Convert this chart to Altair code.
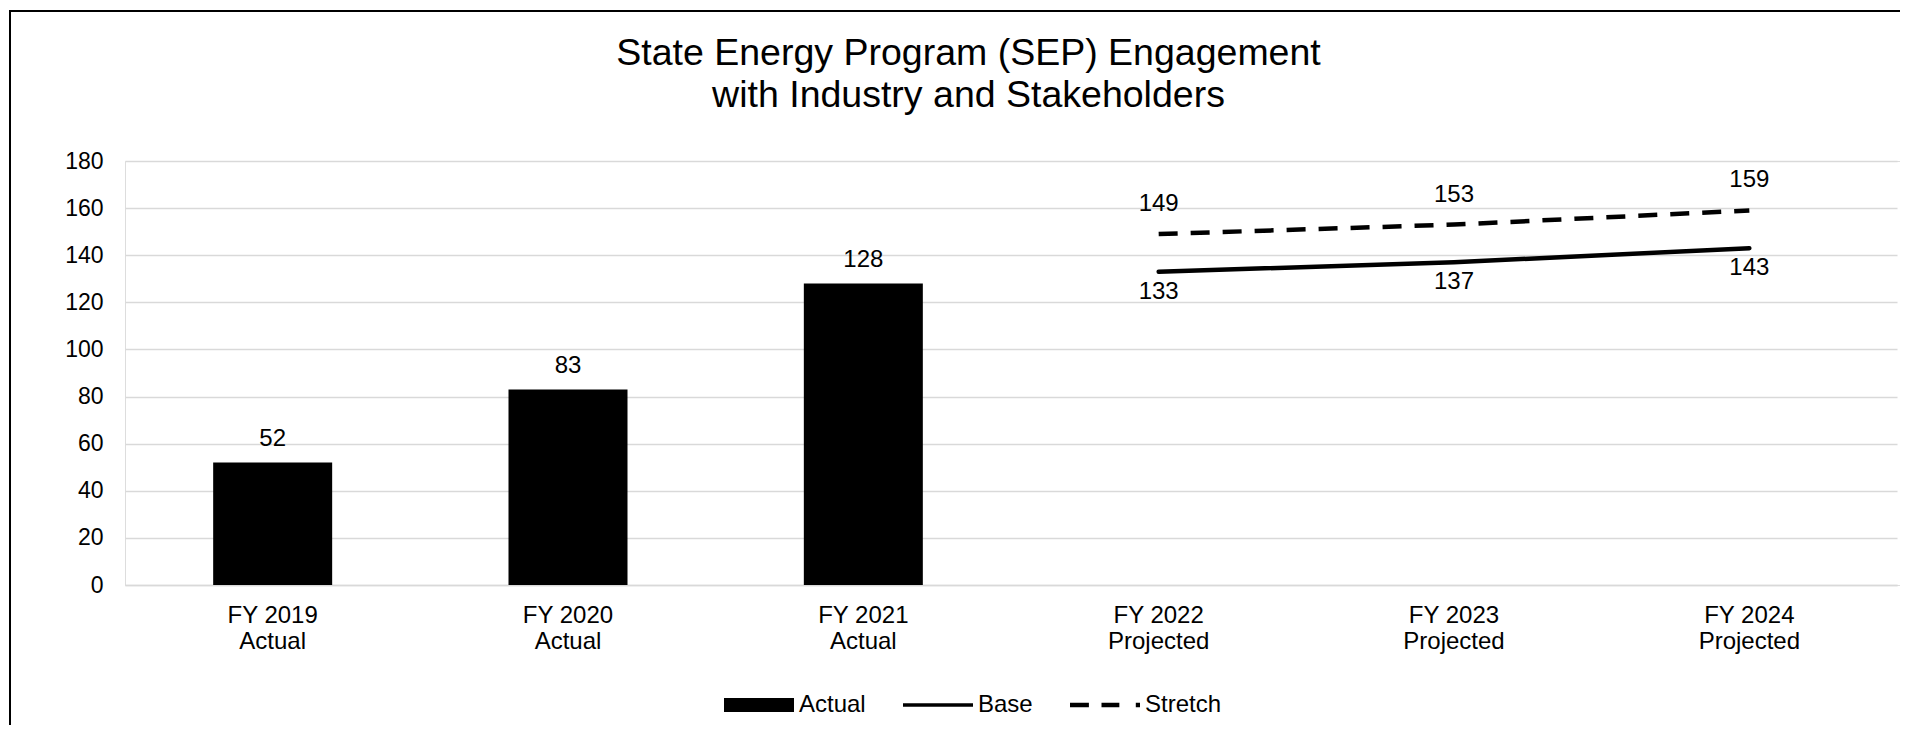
import altair as alt
import pandas as pd

categories = ["FY 2019\nActual", "FY 2020\nActual", "FY 2021\nActual",
              "FY 2022\nProjected", "FY 2023\nProjected", "FY 2024\nProjected"]
actual = [52, 83, 128, None, None, None]
base = [None, None, None, 133, 137, 143]
stretch = [None, None, None, 149, 153, 159]
series_names = ["Actual", "Base", "Stretch"]
y_ticks = [0, 20, 40, 60, 80, 100, 120, 140, 160, 180]

FONT = "Liberation Sans"

rows = []
for c, a, b, s in zip(categories, actual, base, stretch):
    if a is not None:
        rows.append({"Year": c, "Series": "Actual", "Value": a})
    if b is not None:
        rows.append({"Year": c, "Series": "Base", "Value": b})
    if s is not None:
        rows.append({"Year": c, "Series": "Stretch", "Value": s})
df = pd.DataFrame(rows)

x_enc = alt.X("Year:N", sort=categories,
              scale=alt.Scale(paddingInner=0, paddingOuter=0, range=[0, 1772]),
              axis=alt.Axis(title=None, labelExpr="split(datum.label, '\\n')", labelAngle=0,
                            labelFontSize=24, labelFont=FONT, labelColor="black",
                            labelLineHeight=26.5, labelPadding=18, ticks=False,
                            domainColor="#d9d9d9", domainWidth=1.5, grid=False))
y_enc = alt.Y("Value:Q", scale=alt.Scale(domain=[0, 180], nice=False),
              axis=alt.Axis(title=None, values=y_ticks, labelFontSize=23, labelFont=FONT,
                            labelColor="black", labelPadding=22, ticks=False, domain=False,
                            gridColor="#d9d9d9", gridWidth=1.5))

base_chart = alt.Chart(df)

bars = base_chart.transform_filter(alt.datum.Series == "Actual").mark_bar(
    size=119, color="black").encode(x=x_enc, y=y_enc)
bar_labels = base_chart.transform_filter(alt.datum.Series == "Actual").mark_text(
    dy=-23.5, baseline="middle", fontSize=24, font=FONT, color="black").encode(
    x=x_enc, y=y_enc, text="Value:Q")

base_line = base_chart.transform_filter(alt.datum.Series == "Base").mark_line(
    color="black", strokeWidth=4.5, strokeCap="round").encode(x=x_enc, y=y_enc)
stretch_line = base_chart.transform_filter(alt.datum.Series == "Stretch").mark_line(
    color="black", strokeWidth=4.5, strokeDash=[19, 13]).encode(x=x_enc, y=y_enc)
base_labels = base_chart.transform_filter(alt.datum.Series == "Base").mark_text(
    dy=20, baseline="middle", fontSize=24, font=FONT, color="black").encode(
    x=x_enc, y=y_enc, text="Value:Q")
stretch_labels = base_chart.transform_filter(alt.datum.Series == "Stretch").mark_text(
    dy=-30, baseline="middle", fontSize=24, font=FONT, color="black").encode(
    x=x_enc, y=y_enc, text="Value:Q")

shape_paths = [
    "M-1,-0.2L1,-0.2L1,0.2L-1,0.2Z",
    "M-1,-0.05L1,-0.05L1,0.05L-1,0.05Z",
    "M-1,-0.065L-0.46,-0.065L-0.46,0.065L-1,0.065Z"
    "M-0.1,-0.065L0.41,-0.065L0.41,0.065L-0.1,0.065Z"
    "M0.88,-0.065L1,-0.065L1,0.065L0.88,0.065Z",
]
legend_points = base_chart.mark_point(filled=True, opacity=0, color="black").encode(
    x=x_enc, y=y_enc,
    shape=alt.Shape("Series:N", scale=alt.Scale(domain=series_names, range=shape_paths),
                    legend=alt.Legend(title=None, orient="none", legendX=599, legendY=509,
                                      direction="horizontal", symbolSize=4900,
                                      symbolFillColor="black", symbolStrokeWidth=0,
                                      symbolOpacity=1, labelFontSize=24, labelFont=FONT,
                                      labelColor="black", labelOffset=5, columnPadding=37,
                                      padding=0)))

frame = alt.Chart(alt.Data(values=[{"k": 1}])).mark_rect(
    fill=None, stroke="black", strokeWidth=2).encode(
    x=alt.value(-115), x2=alt.value(1850), y=alt.value(-150), y2=alt.value(700))

chart = alt.layer(frame, bars, bar_labels, base_line, stretch_line, base_labels,
                  stretch_labels, legend_points).properties(
    width=1775, height=424,
    title=alt.Title(["State Energy Program (SEP) Engagement", "with Industry and Stakeholders"],
                    fontSize=37.5, font=FONT, fontWeight="normal", color="black",
                    anchor="middle", frame="group", dx=-44, offset=-104, lineHeight=42),
    autosize=alt.AutoSizeParams(type="none"),
    padding={"left": 117, "top": 153, "right": 0, "bottom": 140},
).configure_view(stroke=None).configure(background="white")

chart.save("out.html", embed_options={"renderer": "svg", "actions": False})
